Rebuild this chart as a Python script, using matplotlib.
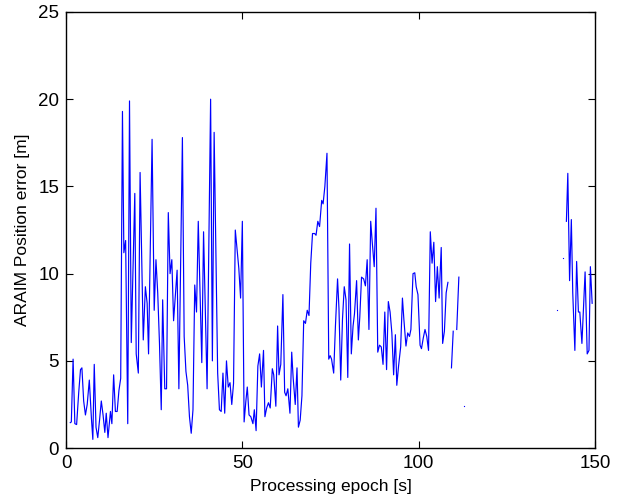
import numpy as np
import matplotlib
matplotlib.use("Agg")
import matplotlib.pyplot as plt

# epoch [s] and ARAIM position error [m]; nan = no solution
epoch = [1.2, 1.5, 2.0, 2.5, 3.0, 3.6, 4.1, 4.5, 5.0, 5.5, 6.0, 6.6, 7.2, 7.6, 8.0,
         8.5, 9.0, 9.5, 10.0, 10.5, 11.0, 11.4, 11.9, 12.6, 13.0, 13.5, 14.0, 14.5,
         15.0, 15.5, 16.0, 16.4, 16.9, 17.5, 18.0, 18.5, 19.5, 19.9, 20.5, 21.0,
         21.9, 22.5, 23.0, 23.4, 24.4, 25.0, 25.5, 26.0, 26.5, 27.0, 27.4, 28.0,
         28.5, 29.0, 29.5, 30.0, 30.5, 31.5, 32.0, 33.0, 33.5, 34.0, 34.5, 35.0,
         35.5, 36.0, 36.5, 37.0, 37.5, 38.5, 39.0, 40.0, 41.0, 41.5, 42.0, 43.0,
         43.5, 44.0, 44.5, 45.0, 45.5, 46.0, 46.5, 47.0, 47.5, 48.0, 49.0, 49.5,
         50.0, 50.5, 51.0, 51.4, 51.9, 52.4, 53.0, 53.4, 53.9, 54.4, 54.9, 55.4,
         56.0, 56.4, 56.9, 57.4, 57.9, 58.5, 58.9, 59.5, 60.0, 60.4, 60.9, 61.5,
         62.0, 62.4, 62.9, 63.5, 64.0, 64.4, 65.0, 65.5, 65.9, 66.4, 66.9, 67.4,
         67.9, 68.4, 68.9, 69.4, 69.9, 70.5, 70.9, 71.4, 71.9, 72.5, 72.9, 73.4,
         74.0, 74.5, 74.9, 75.3, 75.9, 76.4, 77.0, 77.4, 77.9, 78.4, 78.9, 79.4,
         79.9, 80.4, 80.9, 81.4, 81.8, 82.4, 82.9, 83.3, 83.8, 84.4, 84.9, 85.4,
         85.9, 86.4, 86.8, 87.4, 87.9, 88.4, 88.9, 89.4, 89.9, 90.4, 90.9, 91.4,
         91.9, 92.4, 92.9, 93.4, 93.8, 94.3, 94.9, 95.4, 95.8, 96.4, 96.9, 97.4,
         97.8, 98.4, 98.9, 99.3, 99.8, 100.4, 100.8, 101.3, 101.8, 102.3, 102.8,
         103.3, 103.8, 104.3, 104.8, 105.3, 105.8, 106.4, 106.8, 107.3, 107.8,
         108.3, 108.8, 109.3, 109.8, 110.3, 110.8, 111.4, 111.9,
         141.4, 141.9, 142.3, 142.8, 143.3, 143.7, 144.3, 144.8, 145.3, 145.7,
         146.3, 147.2, 147.8, 148.3, 148.7, 149.2]
pos_err = [1.46, 1.5, 5.1, 1.4, 1.35, 3.2, 4.5, 4.6, 2.7, 1.9, 2.5, 3.9, 1.7, 0.5, 4.8,
           1.2, 0.6, 1.6, 2.7, 1.9, 0.9, 2.0, 0.6, 2.1, 1.4, 4.2, 2.1, 2.1,
           3.3, 4.0, 19.3, 11.2, 11.9, 1.4, 19.9, 6.05, 14.6, 5.4, 4.3, 15.8,
           6.2, 9.25, 8.3, 5.4, 17.7, 7.9, 10.8, 8.9, 6.0, 2.2, 8.5, 3.4,
           3.4, 13.5, 10.0, 10.8, 7.3, 10.2, 3.4, 17.8, 6.4, 4.4, 3.6, 1.8,
           0.85, 2.2, 9.35, 7.8, 13.0, 4.9, 12.4, 3.4, 20.0, 5.0, 18.1, 4.3,
           2.2, 2.1, 4.3, 2.0, 5.0, 3.5, 3.75, 2.5, 3.7, 12.5, 10.3, 8.6,
           13.0, 1.5, 2.7, 3.5, 1.9, 1.8, 1.4, 2.2, 1.0, 4.7, 5.4, 3.5,
           5.6, 1.8, 2.3, 2.6, 2.3, 4.55, 4.2, 2.4, 7.0, 4.2, 4.8, 8.8,
           3.2, 3.0, 3.4, 2.0, 5.5, 4.05, 2.5, 4.6, 1.2, 1.6, 3.0, 7.3,
           7.15, 7.9, 7.6, 10.6, 12.3, 12.3, 12.2, 13.0, 12.7, 14.2, 14.0, 15.0,
           16.9, 5.1, 5.3, 5.1, 4.3, 7.0, 9.7, 8.0, 3.9, 7.4, 9.25, 8.5,
           4.05, 11.7, 5.4, 7.0, 7.7, 9.6, 6.2, 7.5, 9.8, 9.7, 9.3, 10.8,
           6.8, 13.0, 11.9, 10.4, 13.75, 5.5, 5.9, 5.8, 4.8, 7.8, 4.5, 8.4,
           7.8, 6.6, 4.2, 6.5, 3.6, 4.7, 5.8, 8.6, 7.4, 5.85, 6.6, 6.4,
           6.8, 10.0, 10.05, 9.25, 8.8, 5.9, 5.7, 6.3, 6.8, 6.4, 5.6,
           12.4, 10.6, 11.8, 8.4, 10.4, 8.6, 11.5, 6.0, 6.7, 8.9,
           9.5, np.nan, 4.6, 6.7, np.nan, 6.8, 9.8, np.nan,
           np.nan, 13.0, 15.75, 9.6, 13.1, 8.9, 5.6, 10.7, 7.8, 7.8,
           6.0, 10.1, 5.4, 5.6, 10.4, 8.3]

# single epochs with no neighbours, only visible as dots
lone_epoch = [112.9, 139.3, 140.8]
lone_err = [2.4, 7.9, 10.9]

plt.rcParams['font.family'] = ['Liberation Sans', 'DejaVu Sans']

fig = plt.figure(figsize=(6.23, 4.99), dpi=100)
ax = fig.add_axes([0.106, 0.102, 0.849, 0.874])

ax.plot(epoch, pos_err, color='#0000ff', lw=0.85)
ax.plot(lone_epoch, lone_err, ls='none', marker='s', ms=0.8, mec='none',
        color='#0000ff')

ax.set_xlim(0, 150)
ax.set_ylim(0, 25)
ax.set_xticks([0, 50, 100, 150])
ax.set_yticks([0, 5, 10, 15, 20, 25])
ax.tick_params(direction='in', length=5, width=0.8, top=True, right=True,
               labelsize=13.5, pad=5)
for s in ax.spines.values():
    s.set_linewidth(1.0)

ax.set_xlabel('Processing epoch [s]', fontsize=12.5, labelpad=5)
ax.set_ylabel('ARAIM Position error [m]', fontsize=12.5, labelpad=6)

fig.savefig('out.png', dpi=100)
